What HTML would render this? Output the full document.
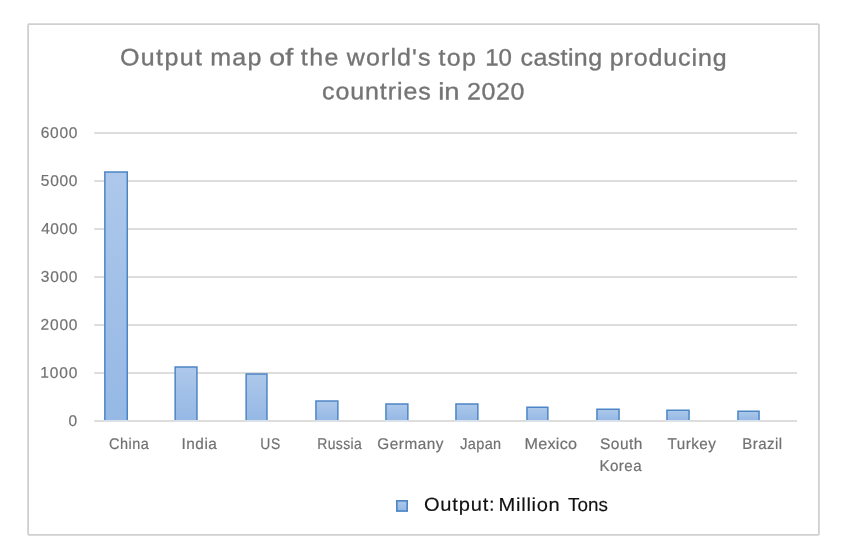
<!DOCTYPE html>
<html lang="en">
<head>
<meta charset="utf-8">
<title>Output map of the world's top 10 casting producing countries in 2020</title>
<style>
  html, body { margin: 0; padding: 0; background: #ffffff; }
  body { width: 852px; height: 560px; overflow: hidden; position: relative;
         font-family: "Liberation Sans", sans-serif; }
  svg { position: absolute; left: 0; top: 0; display: block; will-change: transform; }
  text { font-family: "Liberation Sans", sans-serif; white-space: pre; }
  .title { font-size: 23.8px; fill: #747474; stroke: #747474; stroke-width: 0.35px; }
  .ylab  { font-size: 15.5px; fill: #717171; stroke: #717171; stroke-width: 0.2px; }
  .xlab  { font-size: 15.5px; fill: #717171; stroke: #717171; stroke-width: 0.2px; }
  .legend { font-size: 18.8px; fill: #111111; stroke: #111111; stroke-width: 0.15px; }
  .grid line, .axis line { stroke: #d2d2d2; stroke-width: 1.6; }
  .bars path { fill: url(#barfill); stroke: #4c85c5; stroke-width: 1.5; stroke-linejoin: miter; }
  .axis line.over { stroke: #dbe4ee; }
</style>
</head>
<body>
<svg width="852" height="560" viewBox="0 0 852 560">
  <defs>
    <linearGradient id="barfill" x1="0" y1="0" x2="0" y2="1">
      <stop offset="0" stop-color="#adc8ea"/>
      <stop offset="1" stop-color="#95b8e5"/>
    </linearGradient>
  </defs>

  <!-- chart frame -->
  <rect x="28.1" y="24.1" width="790.8" height="510.8" rx="0.8" fill="#ffffff" stroke="#d0d0d0" stroke-width="1.8"/>
  <!-- title -->
  <text class="title" y="65.4" transform="rotate(0.05 423.2 65.4) scale(1.05 1)"><tspan x="114.25" textLength="78.17" lengthAdjust="spacing">Output</tspan> <tspan x="200.20" textLength="48.65" lengthAdjust="spacing">map</tspan> <tspan x="256.44" textLength="22.70" lengthAdjust="spacingAndGlyphs">of</tspan> <tspan x="286.41" textLength="35.90" lengthAdjust="spacing">the</tspan> <tspan x="330.30" textLength="79.72" lengthAdjust="spacing">world's</tspan> <tspan x="417.62" textLength="35.64" lengthAdjust="spacing">top</tspan> <tspan x="462.04" textLength="25.48" lengthAdjust="spacingAndGlyphs">10</tspan> <tspan x="495.84" textLength="77.54" lengthAdjust="spacing">casting</tspan> <tspan x="580.64" textLength="111.44" lengthAdjust="spacing">producing</tspan></text>
  <text class="title" y="99.4" transform="rotate(0.05 423.3 99.4) scale(1.05 1)"><tspan x="306.71" textLength="103.50" lengthAdjust="spacing">countries</tspan> <tspan x="417.43" textLength="20.27" lengthAdjust="spacingAndGlyphs">in</tspan> <tspan x="444.88" textLength="54.64" lengthAdjust="spacing">2020</tspan></text>

  <!-- gridlines -->
  <g class="grid">
    <line x1="94.3" x2="797" y1="133" y2="133"/>
    <line x1="94.3" x2="797" y1="181" y2="181"/>
    <line x1="94.3" x2="797" y1="229" y2="229"/>
    <line x1="94.3" x2="797" y1="277" y2="277"/>
    <line x1="94.3" x2="797" y1="325" y2="325"/>
    <line x1="94.3" x2="797" y1="373" y2="373"/>
  </g>

  <!-- y axis labels -->
  <text class="ylab" x="40.68" y="137.9" textLength="36.72" lengthAdjust="spacing" transform="rotate(0.05 59.1 137.9) scale(1.0 1)">6000</text>
  <text class="ylab" x="40.81" y="185.9" textLength="36.59" lengthAdjust="spacing" transform="rotate(0.05 59.1 185.9) scale(1.0 1)">5000</text>
  <text class="ylab" x="41.17" y="233.9" textLength="36.23" lengthAdjust="spacing" transform="rotate(0.05 59.1 233.9) scale(1.0 1)">4000</text>
  <text class="ylab" x="40.84" y="281.9" textLength="36.56" lengthAdjust="spacing" transform="rotate(0.05 59.1 281.9) scale(1.0 1)">3000</text>
  <text class="ylab" x="40.60" y="329.9" textLength="36.80" lengthAdjust="spacing" transform="rotate(0.05 59.1 329.9) scale(1.0 1)">2000</text>
  <text class="ylab" x="40.14" y="377.9" textLength="37.26" lengthAdjust="spacing" transform="rotate(0.05 59.1 377.9) scale(1.0 1)">1000</text>
  <text class="ylab" x="68.48" y="425.9" transform="rotate(0.05 72.9 425.9) scale(1.0 1)">0</text>

  <!-- bars -->
  <g class="bars">
    <path d="M104.85 420.6V171.95H127.25V420.6"/>
    <path d="M175.15 420.6V367.05H196.95V420.6"/>
    <path d="M246.15 420.6V374.05H266.95V420.6"/>
    <path d="M315.95 420.6V401.05H337.85V420.6"/>
    <path d="M385.95 420.6V404.05H407.85V420.6"/>
    <path d="M455.95 420.6V404.05H477.85V420.6"/>
    <path d="M526.95 420.6V407.25H547.85V420.6"/>
    <path d="M596.95 420.6V409.25H619.05V420.6"/>
    <path d="M666.95 420.6V410.25H689.05V420.6"/>
    <path d="M737.95 420.6V411.25H759.05V420.6"/>
  </g>

  <!-- horizontal axis line (drawn over the bar bases) -->
  <g class="axis"><line x1="94.3" x2="797" y1="421" y2="421"/>
    <line class="over" x1="104.1" x2="128.0" y1="421" y2="421"/>
    <line class="over" x1="174.4" x2="197.7" y1="421" y2="421"/>
    <line class="over" x1="245.4" x2="267.7" y1="421" y2="421"/>
    <line class="over" x1="315.2" x2="338.6" y1="421" y2="421"/>
    <line class="over" x1="385.2" x2="408.6" y1="421" y2="421"/>
    <line class="over" x1="455.2" x2="478.6" y1="421" y2="421"/>
    <line class="over" x1="526.2" x2="548.6" y1="421" y2="421"/>
    <line class="over" x1="596.2" x2="619.8" y1="421" y2="421"/>
    <line class="over" x1="666.2" x2="689.8" y1="421" y2="421"/>
    <line class="over" x1="737.2" x2="759.8" y1="421" y2="421"/>
  </g>

  <!-- x axis labels -->
  <text class="xlab" x="116.67" y="449.1" textLength="42.66" lengthAdjust="spacing" transform="rotate(0.05 129.3 449.1) scale(0.934 1)">China</text>
  <text class="xlab" x="182.69" y="449.1" textLength="35.47" lengthAdjust="spacing" transform="rotate(0.05 199.9 449.1) scale(0.994 1)">India</text>
  <text class="xlab" x="290.39" y="449.1" textLength="22.33" lengthAdjust="spacing" transform="rotate(0.05 270.4 449.1) scale(0.896 1)">US</text>
  <text class="xlab" x="352.46" y="449.1" textLength="49.59" lengthAdjust="spacing" transform="rotate(0.05 340.0 449.1) scale(0.9 1)">Russia</text>
  <text class="xlab" x="381.51" y="449.1" textLength="66.95" lengthAdjust="spacing" transform="rotate(0.05 410.7 449.1) scale(0.989 1)">Germany</text>
  <text class="xlab" x="493.74" y="449.1" textLength="43.94" lengthAdjust="spacing" transform="rotate(0.05 480.3 449.1) scale(0.932 1)">Japan</text>
  <text class="xlab" x="502.88" y="449.1" textLength="50.44" lengthAdjust="spacing" transform="rotate(0.05 551.1 449.1) scale(1.043 1)">Mexico</text>
  <text class="xlab" x="601.09" y="449.1" textLength="42.67" lengthAdjust="spacing" transform="rotate(0.05 621.1 449.1) scale(0.998 1)">South</text>
  <text class="xlab" x="613.62" y="471.1" textLength="43.05" lengthAdjust="spacing" transform="rotate(0.05 621.1 471.1) scale(0.977 1)">Korea</text>
  <text class="xlab" x="678.40" y="449.1" textLength="49.06" lengthAdjust="spacing" transform="rotate(0.05 691.7 449.1) scale(0.984 1)">Turkey</text>
  <text class="xlab" x="765.27" y="449.1" textLength="41.01" lengthAdjust="spacing" transform="rotate(0.05 762.2 449.1) scale(0.97 1)">Brazil</text>

  <!-- legend -->
  <rect x="396.85" y="500.85" width="10.3" height="10.2" fill="url(#barfill)" stroke="#5088c6" stroke-width="1.7"/>
  <text class="legend" y="510.9" transform="rotate(0.05 516.0 510.9) scale(1.07 1)"><tspan x="396.21" textLength="66.07" lengthAdjust="spacing">Output:</tspan> <tspan x="465.97" textLength="57.20" lengthAdjust="spacing">Million</tspan> <tspan x="530.90" textLength="37.18" lengthAdjust="spacingAndGlyphs">Tons</tspan></text>
</svg>
</body>
</html>
